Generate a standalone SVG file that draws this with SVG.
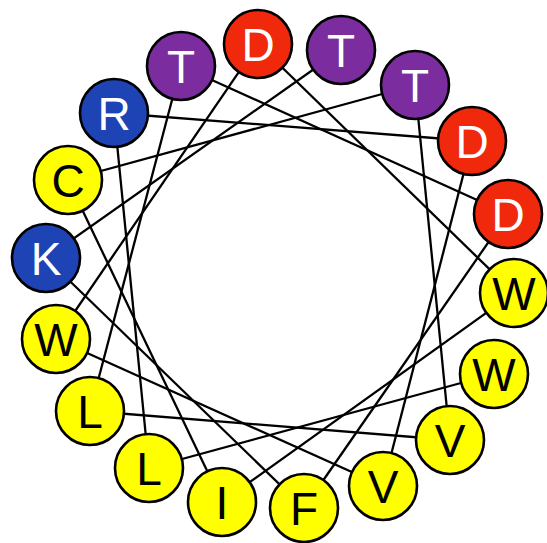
<svg xmlns="http://www.w3.org/2000/svg" width="547" height="543" viewBox="0 0 547 543">
<style>
.c line{stroke:#000;stroke-width:2.3}
circle{stroke:#000;stroke-width:2.6}
.red circle{fill:#F0280C}
.pur circle{fill:#7B2C9E}
.blu circle{fill:#1E43B4}
.yel circle{fill:#FFFF00}
text{font-family:"Liberation Sans",Arial,sans-serif;font-size:46px;text-anchor:middle}
.red text,.pur text,.blu text{fill:#fff}
.yel text{fill:#000}
</style>
<rect width="547" height="543" fill="#fff"/>
<g id="connectors" class="c">
<line x1="258" y1="44" x2="514" y2="293"/>
<line x1="415" y1="85" x2="450" y2="440"/>
<line x1="472" y1="141" x2="383" y2="486"/>
<line x1="508" y1="214" x2="304" y2="508"/>
<line x1="514" y1="293" x2="222" y2="502"/>
<line x1="494" y1="374" x2="149" y2="468"/>
<line x1="450" y1="440" x2="90" y2="411"/>
<line x1="383" y1="486" x2="56" y2="339"/>
<line x1="304" y1="508" x2="46" y2="258"/>
<line x1="222" y1="502" x2="68" y2="180"/>
<line x1="149" y1="468" x2="114" y2="113"/>
<line x1="90" y1="411" x2="181" y2="66"/>
<line x1="56" y1="339" x2="258" y2="44"/>
<line x1="46" y1="258" x2="341" y2="50"/>
<line x1="68" y1="180" x2="415" y2="85"/>
<line x1="114" y1="113" x2="472" y2="141"/>
<line x1="181" y1="66" x2="508" y2="214"/>
</g>
<g id="n0" class="red"><circle cx="258" cy="44" r="34"/><text x="258" y="60.5">D</text></g>
<g id="n1" class="pur"><circle cx="341" cy="50" r="34"/><text x="341" y="66.5">T</text></g>
<g id="n2" class="pur"><circle cx="415" cy="85" r="34"/><text x="415" y="101.5">T</text></g>
<g id="n3" class="red"><circle cx="472" cy="141" r="34"/><text x="472" y="157.5">D</text></g>
<g id="n4" class="red"><circle cx="508" cy="214" r="34"/><text x="508" y="230.5">D</text></g>
<g id="n5" class="yel"><circle cx="514" cy="293" r="34"/><text x="514" y="309.5">W</text></g>
<g id="n6" class="yel"><circle cx="494" cy="374" r="34"/><text x="494" y="390.5">W</text></g>
<g id="n7" class="yel"><circle cx="450" cy="440" r="34"/><text x="450" y="456.5">V</text></g>
<g id="n8" class="yel"><circle cx="383" cy="486" r="34"/><text x="383" y="502.5">V</text></g>
<g id="n9" class="yel"><circle cx="304" cy="508" r="34"/><text x="304" y="524.5">F</text></g>
<g id="n10" class="yel"><circle cx="222" cy="502" r="34"/><text x="222" y="518.5">I</text></g>
<g id="n11" class="yel"><circle cx="149" cy="468" r="34"/><text x="149" y="484.5">L</text></g>
<g id="n12" class="yel"><circle cx="90" cy="411" r="34"/><text x="90" y="427.5">L</text></g>
<g id="n13" class="yel"><circle cx="56" cy="339" r="34"/><text x="56" y="355.5">W</text></g>
<g id="n14" class="blu"><circle cx="46" cy="258" r="34"/><text x="46" y="274.5">K</text></g>
<g id="n15" class="yel"><circle cx="68" cy="180" r="34"/><text x="68" y="196.5">C</text></g>
<g id="n16" class="blu"><circle cx="114" cy="113" r="34"/><text x="114" y="129.5">R</text></g>
<g id="n17" class="pur"><circle cx="181" cy="66" r="34"/><text x="181" y="82.5">T</text></g>
</svg>
